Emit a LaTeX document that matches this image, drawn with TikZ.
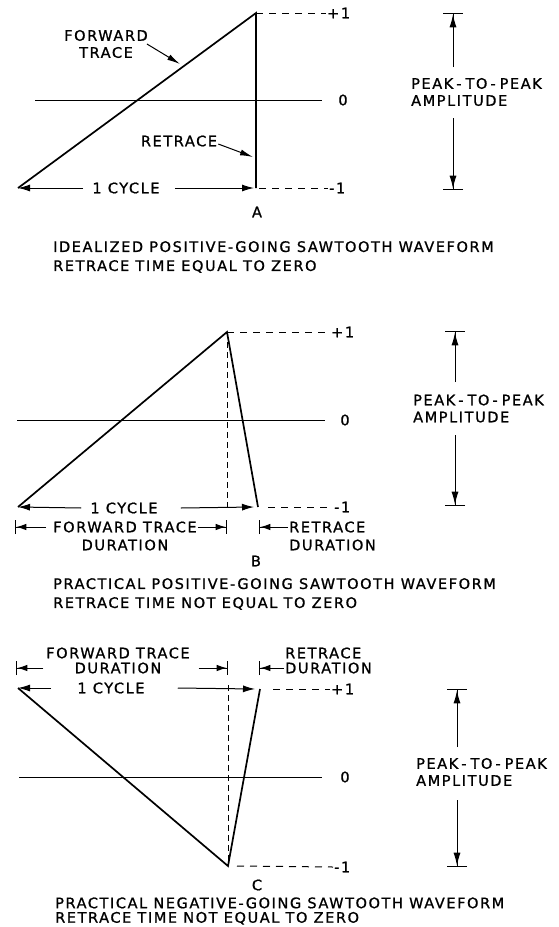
\documentclass[tikz,border=0pt]{standalone}
\usepackage{fontspec}
\setmainfont[LetterSpace=11,FakeBold=1]{DejaVu Sans}
\usetikzlibrary{arrows.meta, positioning}
\tikzset{
	wave/.style    ={line width=1.7pt, line join=miter},
	axis/.style    ={line width=1pt},
	level/.style   ={line width=1pt, dash pattern=on 7pt off 6pt},
	guide/.style   ={line width=0.9pt, dash pattern=on 6pt off 4pt},
	lbl/.style     ={font=\fontsize{14.5}{17}\selectfont, inner sep=1pt},
	caption/.style ={font=\fontsize{14.5}{19}\selectfont, inner sep=0pt, anchor=west, align=left},
	dimarrow/.style={line width=1pt, -{Latex[length=12pt,width=7pt]}},
	bararrow/.style={line width=1pt, -{Latex[length=10pt,width=6.5pt]Bar[width=14pt,line width=1.3pt]}},
	pparrow/.style ={line width=1pt, -{Latex[length=13pt,width=7pt]Bar[width=20pt,line width=1.3pt]}},
	ptr/.style     ={line width=1pt, -{Latex[length=13pt,width=6pt]}},
}
\newcommand{\ptp}{PEAK\kern3pt-\kern4pt TO\kern3pt-\kern4pt PEAK}
\begin{document}
\begin{tikzpicture}[x=1pt, y=-1pt]
	\useasboundingbox (0,0) rectangle (559,927);
	% --- A: idealized positive-going
	\coordinate (a0) at (18,188);
	\coordinate (aTop) at (256,13);
	\coordinate (aBot) at (256,188);
	\draw[wave] (a0) -- (aTop) -- (aBot);
	\draw[axis] (35,100) -- (322,100);
	\node[lbl] (zeroA) at (343,100) {0};
	\node[lbl, anchor=west] (plusA) at (326,13) {+1};
	\node[lbl, anchor=west] (minusA) at (328,188) {-1};
	\draw[level] (aTop) -- (plusA.west);
	\draw[level] ([xshift=3pt]aBot) -- (minusA.west);
	\node[lbl, align=center] (fwdA) at (106,44) {FORWARD\\TRACE};
	\coordinate (fwdAtip) at (180,64);
	\draw[ptr] ([xshift=-2pt]fwdA.east) -- (fwdAtip);
	\node[lbl] (retA) at (179,141) {RETRACE};
	\coordinate (retAtip) at (253,157);
	\draw[ptr] ([yshift=-3pt]retA.east) -- (retAtip);
	\node[lbl] (cycA) at (126,188) {1 CYCLE};
	\draw[dimarrow] ([xshift=-8pt]cycA.west) -- (a0);
	\draw[dimarrow] ([xshift=14pt]cycA.east) -- ([xshift=-2pt]aBot);
	\node[lbl, align=left, anchor=west] (ppA) at (410,92) {\ptp\\AMPLITUDE};
	\draw[pparrow] (453,67) -- (453,13);
	\draw[pparrow] (453,118) -- (453,190);
	\node[lbl] (capA) at (257,212) {A};
	\node[caption] (txtA) at (53,257) {IDEALIZED POSITIVE-GOING SAWTOOTH WAVEFORM\\RETRACE TIME EQUAL TO ZERO};
	% --- B: practical positive-going
	\coordinate (b0) at (18,507);
	\coordinate (bTop) at (227,332);
	\coordinate (bEnd) at (258,507);
	\draw[wave] (b0) -- (bTop) -- (bEnd);
	\draw[guide] (bTop) -- (227,507);
	\draw[axis] (17,420) -- (325,420);
	\node[lbl] (zeroB) at (345,420) {0};
	\node[lbl, anchor=west] (plusB) at (330,332) {+1};
	\node[lbl, anchor=west] (minusB) at (333,507) {-1};
	\draw[level] (bTop) -- (plusB.west);
	\draw[level] ([xshift=10pt]bEnd) -- (minusB.west);
	\node[lbl] (cycB) at (124,508) {1 CYCLE};
	\draw[dimarrow] ([xshift=-8pt]cycB.west) -- (b0);
	\draw[dimarrow] ([xshift=22pt]cycB.east) -- ([xshift=-4pt]bEnd);
	\node[lbl] (fwdB) at (125,527) {FORWARD TRACE};
	\node[lbl] (fdurB) at (125,545) {DURATION};
	\coordinate (bL) at (15,527);
	\coordinate (bM) at (227,527);
	\draw[bararrow] ([xshift=-6pt]fwdB.west) -- (bL);
	\draw[bararrow] (fwdB.east) -- (bM);
	\node[lbl, anchor=west] (retB) at (288,527) {RETRACE};
	\node[lbl, anchor=west] (rdurB) at (288,545) {DURATION};
	\coordinate (bR) at (259,527);
	\draw[bararrow] (retB.west) -- (bR);
	\node[lbl, align=left, anchor=west] (ppB) at (412,408.5) {\ptp\\AMPLITUDE};
	\draw[pparrow] (455,382) -- (455,331);
	\draw[pparrow] (455,435) -- (455,506);
	\node[lbl] (capB) at (256,561) {B};
	\node[caption] (txtB) at (53,594) {PRACTICAL POSITIVE-GOING SAWTOOTH WAVEFORM\\RETRACE TIME NOT EQUAL TO ZERO};
	% --- C: practical negative-going
	\coordinate (c0) at (18,688);
	\coordinate (cBot) at (228,866);
	\coordinate (cEnd) at (260,689);
	\draw[wave] (c0) -- (cBot) -- (cEnd);
	\draw[guide] (228,685) -- (cBot);
	\draw[axis] (19,777) -- (322,777);
	\node[lbl] (zeroC) at (345,777) {0};
	\node[lbl, anchor=west] (plusC) at (330,689) {+1};
	\node[lbl, anchor=west] (minusC) at (333,867) {-1};
	\draw[level] ([xshift=13pt]cEnd) -- (plusC.west);
	\draw[level] ([xshift=9pt]cBot) -- (minusC.west);
	\node[lbl] (fwdC) at (118,653) {FORWARD TRACE};
	\node[lbl] (fdurC) at (118,668) {DURATION};
	\coordinate (cL) at (16,668);
	\coordinate (cM) at (228,668);
	\draw[bararrow] ([xshift=-30pt]fdurC.west) -- (cL);
	\draw[bararrow] ([xshift=36pt]fdurC.east) -- (cM);
	\node[lbl, anchor=west] (retC) at (284,653) {RETRACE};
	\node[lbl, anchor=west] (rdurC) at (284,668) {DURATION};
	\coordinate (cR) at (259,668);
	\draw[bararrow] (rdurC.west) -- (cR);
	\node[lbl] (cycC) at (111,688) {1 CYCLE};
	\draw[dimarrow] ([xshift=-25pt]cycC.west) -- (c0);
	\draw[dimarrow] ([xshift=32pt]cycC.east) -- ([xshift=-5pt]cEnd);
	\node[lbl, align=left, anchor=west] (ppC) at (415,772) {\ptp\\AMPLITUDE};
	\draw[pparrow] (457,747) -- (457,689);
	\draw[pparrow] (457,800) -- (457,867);
	\node[lbl] (capC) at (257,885) {C};
	\node[caption, font=\fontsize{14.5}{14.5}\selectfont] (txtC) at (55,911) {PRACTICAL NEGATIVE-GOING SAWTOOTH WAVEFORM\\RETRACE TIME NOT EQUAL TO ZERO};
\end{tikzpicture}
\end{document}
